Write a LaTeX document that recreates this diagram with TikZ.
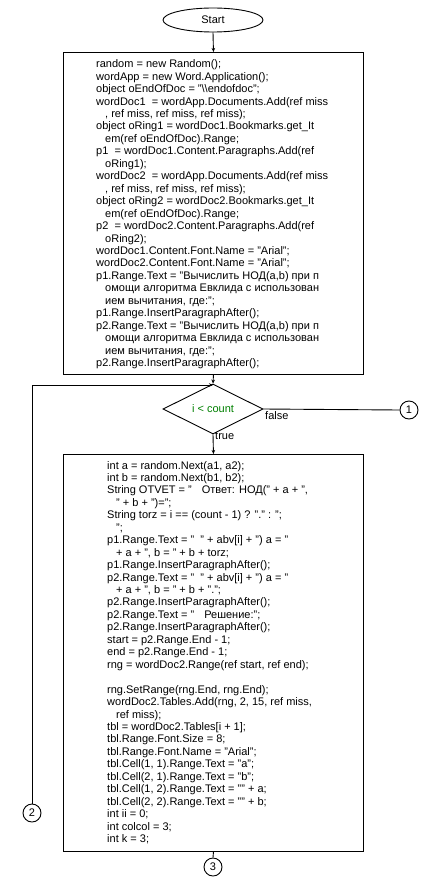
\documentclass[tikz,border=0pt]{standalone}
\usepackage{fontspec}
\setmainfont{Liberation Sans}
\usetikzlibrary{shapes.geometric,arrows.meta}
\definecolor{condgreen}{RGB}{0,128,0}
\newcommand{\ind}{\hspace*{9pt}}
\begin{document}
\begin{tikzpicture}[x=1pt,y=-1pt,
  every node/.style={font=\fontsize{11}{12.45}\selectfont},
  line/.style={draw=black,line width=0.9pt},
  arr/.style={line,-{Stealth[length=4pt,width=3.5pt]}},
  box/.style={draw=black,line width=0.9pt,rectangle,minimum width=300pt,inner sep=0pt,anchor=north west},
  code/.style={align=left,inner sep=0pt,anchor=base west},
  conn/.style={draw=black,line width=0.9pt,circle,minimum size=18pt,inner sep=0pt},
  lbl/.style={inner sep=0pt}]
\useasboundingbox (0,0) rectangle (425,880);
\fill[white] (0,0) rectangle (425,880);

\node[draw=black,line width=0.9pt,ellipse,minimum width=100pt,minimum height=24pt,inner sep=0pt] (start) at (213,20) {Start};

\node[box,minimum height=322pt] (b1) at (63,52) {};
\node[code] (t1) at (96,366.5) {random = new Random();\\
wordApp = new Word.Application();\\
object oEndOfDoc = "\textbackslash\textbackslash endofdoc";\\
wordDoc1\ \ = wordApp.Documents.Add(ref miss\\
\ind, ref miss, ref miss, ref miss);\\
object oRing1 = wordDoc1.Bookmarks.get\_It\\
\ind em(ref oEndOfDoc).Range;\\
p1\ \ = wordDoc1.Content.Paragraphs.Add(ref\\
\ind oRing1);\\
wordDoc2\ \ = wordApp.Documents.Add(ref miss\\
\ind, ref miss, ref miss, ref miss);\\
object oRing2 = wordDoc2.Bookmarks.get\_It\\
\ind em(ref oEndOfDoc).Range;\\
p2\ \ = wordDoc2.Content.Paragraphs.Add(ref\\
\ind oRing2);\\
wordDoc1.Content.Font.Name = "Arial";\\
wordDoc2.Content.Font.Name = "Arial";\\
p1.Range.Text = "Вычислить НОД(a,b) при п\\
\ind омощи алгоритма Евклида с использован\\
\ind ием вычитания, где:";\\
p1.Range.InsertParagraphAfter();\\
p2.Range.Text = "Вычислить НОД(a,b) при п\\
\ind омощи алгоритма Евклида с использован\\
\ind ием вычитания, где:";\\
p2.Range.InsertParagraphAfter();};

\node[draw=black,line width=0.9pt,diamond,minimum width=100pt,minimum height=40pt,inner sep=0pt] (dia) at (213,409) {\textcolor{condgreen}{i < count}};
\coordinate (join) at (213,385);

\node[conn] (c1) at (409,410) {1};
\node[lbl,anchor=west] (lfalse) at (265,416) {false};
\node[lbl,anchor=west] (ltrue) at (215,436) {true};

\node[box,minimum height=397pt] (b2) at (63,454) {};
\node[code] (t2) at (107,842.5) {int a = random.Next(a1, a2);\\
int b = random.Next(b1, b2);\\
String OTVET = "\hspace*{10pt}Ответ: НОД(" + a + ",\\
\ind " + b + ")=";\\
String torz = i == (count - 1) ? "." : ";\\
\ind ";\\
p1.Range.Text = "\ \ " + abv[i] + ") a = "\\
\ind + a + ", b = " + b + torz;\\
p1.Range.InsertParagraphAfter();\\
p2.Range.Text = "\ \ " + abv[i] + ") a = "\\
\ind + a + ", b = " + b + ".";\\
p2.Range.InsertParagraphAfter();\\
p2.Range.Text = "\hspace*{10pt}Решение:";\\
p2.Range.InsertParagraphAfter();\\
start = p2.Range.End - 1;\\
end = p2.Range.End - 1;\\
rng = wordDoc2.Range(ref start, ref end);\\
\mbox{}\\
rng.SetRange(rng.End, rng.End);\\
wordDoc2.Tables.Add(rng, 2, 15, ref miss,\\
\ind ref miss);\\
tbl = wordDoc2.Tables[i + 1];\\
tbl.Range.Font.Size = 8;\\
tbl.Range.Font.Name = "Arial";\\
tbl.Cell(1, 1).Range.Text = "a";\\
tbl.Cell(2, 1).Range.Text = "b";\\
tbl.Cell(1, 2).Range.Text = "" + a;\\
tbl.Cell(2, 2).Range.Text = "" + b;\\
int ii = 0;\\
int colcol = 3;\\
int k = 3;};

\node[conn] (c2) at (32,813) {2};
\node[conn] (c3) at (213,867) {3};

\draw[arr] (start.south) -- (b1.north);
\draw[arr] (b1.south) -- (dia.north);
\draw[arr] (c2.north) |- (join);
\draw[line] (dia.east) -- (c1.west);
\draw[arr] (dia.south) -- (b2.north);
\draw[line] (b2.south) -- (c3.north);
\end{tikzpicture}
\end{document}
